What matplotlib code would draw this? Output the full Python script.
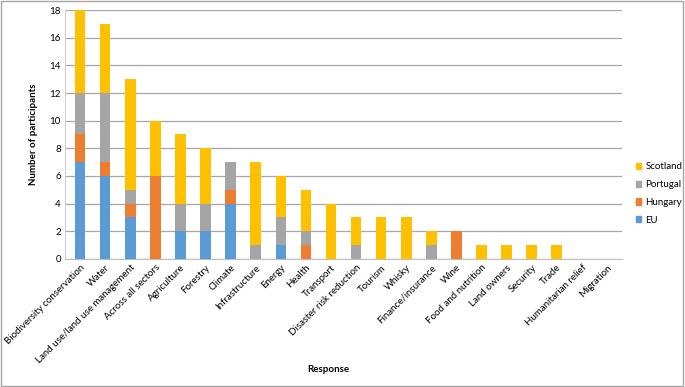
import numpy as np
import matplotlib.pyplot as plt
from matplotlib.patches import Patch

plt.rcParams['font.family'] = ['Lato', 'DejaVu Sans']

categories = ["Biodiversity conservation", "Water", "Land use/land use management",
              "Across all sectors", "Agriculture", "Forestry", "Climate", "Infrastructure",
              "Energy", "Health", "Transport", "Disaster risk reduction", "Tourism",
              "Whisky", "Finance/insurance", "Wine", "Food and nutrition", "Land owners",
              "Security", "Trade", "Humanitarian relief", "Migration"]
eu       = [7, 6, 3, 0, 2, 2, 4, 0, 1, 0, 0, 0, 0, 0, 0, 0, 0, 0, 0, 0, 0, 0]
hungary  = [2, 1, 1, 6, 0, 0, 1, 0, 0, 1, 0, 0, 0, 0, 0, 2, 0, 0, 0, 0, 0, 0]
portugal = [3, 5, 1, 0, 2, 2, 2, 1, 2, 1, 0, 1, 0, 0, 1, 0, 0, 0, 0, 0, 0, 0]
scotland = [6, 5, 8, 4, 5, 4, 0, 6, 3, 3, 4, 2, 3, 3, 1, 0, 1, 1, 1, 1, 0, 0]

series = [("EU", eu, "#5B9BD5"), ("Hungary", hungary, "#ED7D31"),
          ("Portugal", portugal, "#A5A5A5"), ("Scotland", scotland, "#FFC000")]

fig = plt.figure(figsize=(6.85, 3.87), dpi=100)
ax = fig.add_axes([0.095, 0.331, 0.813, 0.643])

x = np.arange(len(categories))
bottom = np.zeros(len(categories))
for name, vals, col in series:
    v = np.array(vals, dtype=float)
    ax.bar(x, v, width=0.42, bottom=bottom, color=col, zorder=3)
    bottom += v

ax.set_ylim(0, 18)
ax.set_xlim(-0.6, len(categories) - 0.4)
ax.set_yticks(range(0, 19, 2))
ax.yaxis.grid(True, color="#A6A6A6", linewidth=0.9, zorder=0)
ax.tick_params(axis="both", length=0, labelsize=7, pad=3)
ax.set_xticks(x)
ax.set_xticklabels(categories, rotation=45, ha="right", rotation_mode="anchor")
for s in ["top", "right"]:
    ax.spines[s].set_visible(False)
ax.spines["left"].set_color("#D0D0D0")
ax.spines["bottom"].set_color("#BFBFBF")

ax.set_ylabel("Number of participants", fontsize=7, fontweight="bold", labelpad=8)
fig.text(0.48, 0.038, "Response", fontsize=7, fontweight="bold", ha="center")

handles = [Patch(color=col, label=name) for name, _, col in reversed(series)]
fig.legend(handles=handles, loc="center left", bbox_to_anchor=(0.915, 0.50),
           frameon=False, fontsize=7, handlelength=0.6, handleheight=0.6,
           handletextpad=0.4, labelspacing=0.9)

fig.patches.append(plt.Rectangle((0.002, 0.003), 0.995, 0.994, transform=fig.transFigure,
                                 fill=False, edgecolor="#A6A6A6", linewidth=1))
fig.savefig("out.png", dpi=100)
